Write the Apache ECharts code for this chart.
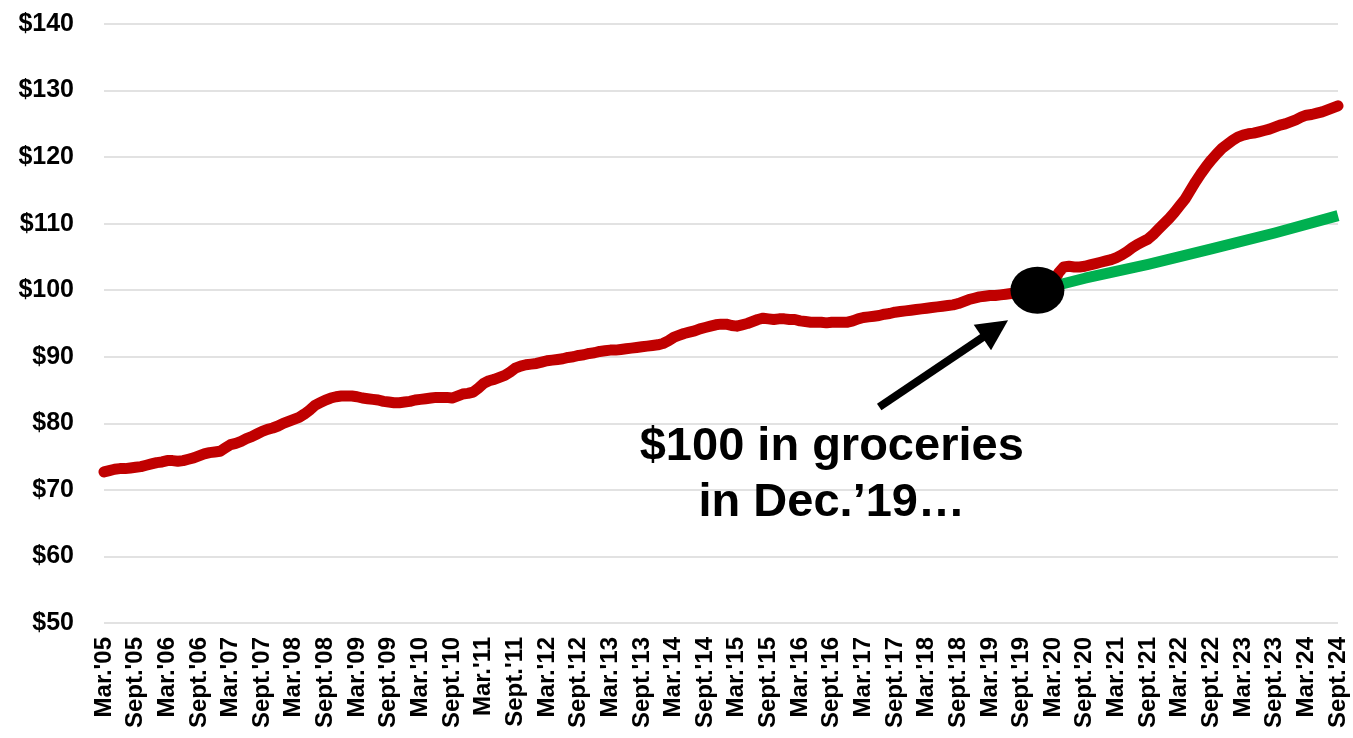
<!DOCTYPE html>
<html>
<head>
<meta charset="utf-8">
<title>Grocery prices</title>
<script src="https://cdn.jsdelivr.net/npm/echarts@6/dist/echarts.min.js"></script>
<style>
  html, body { margin: 0; padding: 0; background: #ffffff; }
  #chart { width: 1353px; height: 738px; }
</style>
</head>
<body>
<div id="chart"></div>
<script>
// Monthly categories, March 2005 through September 2024
const monthNames = ['Jan.', 'Feb.', 'Mar.', 'Apr.', 'May', 'June', 'July', 'Aug.', 'Sept.', 'Oct.', 'Nov.', 'Dec.'];
const startYear = 2005, startMonth = 2;   // March
const monthCount = 235;
const categories = [];
for (let i = 0; i < monthCount; i++) {
  const m = (startMonth + i) % 12;
  const y = startYear + Math.floor((startMonth + i) / 12);
  categories.push(monthNames[m] + "'" + String(y).slice(2));
}

// Cost of the same basket of groceries, $ (Dec. 2019 = $100)
const groceryCost = [
  72.7, 72.9, 73.1, 73.2, 73.2, 73.3, 73.4, 73.5, 73.7, 73.9, 74.1, 74.2,
  74.4, 74.4, 74.3, 74.4, 74.6, 74.8, 75.1, 75.4, 75.6, 75.7, 75.8, 76.3,
  76.8, 77.0, 77.3, 77.7, 78.0, 78.4, 78.8, 79.1, 79.3, 79.6, 80.0, 80.3,
  80.6, 80.9, 81.4, 82.0, 82.7, 83.1, 83.5, 83.8, 84.0, 84.1, 84.1, 84.1,
  84.0, 83.8, 83.7, 83.6, 83.5, 83.3, 83.2, 83.1, 83.1, 83.2, 83.3, 83.5,
  83.6, 83.7, 83.8, 83.9, 83.9, 83.9, 83.8, 84.1, 84.4, 84.5, 84.7, 85.3,
  86.0, 86.4, 86.6, 86.9, 87.2, 87.7, 88.3, 88.6, 88.8, 88.9, 89.0, 89.2,
  89.4, 89.5, 89.6, 89.7, 89.9, 90.0, 90.2, 90.3, 90.5, 90.6, 90.8, 90.9,
  91.0, 91.0, 91.1, 91.2, 91.3, 91.4, 91.5, 91.6, 91.7, 91.8, 92.0, 92.4,
  92.9, 93.2, 93.5, 93.7, 93.9, 94.2, 94.4, 94.6, 94.8, 94.9, 94.9, 94.7,
  94.6, 94.8, 95.0, 95.3, 95.6, 95.8, 95.7, 95.6, 95.7, 95.7, 95.6, 95.6,
  95.4, 95.3, 95.2, 95.2, 95.2, 95.1, 95.2, 95.2, 95.2, 95.2, 95.4, 95.7,
  95.9, 96.0, 96.1, 96.2, 96.4, 96.5, 96.7, 96.8, 96.9, 97.0, 97.1, 97.2,
  97.3, 97.4, 97.5, 97.6, 97.7, 97.8, 98.0, 98.3, 98.6, 98.8, 99.0, 99.1,
  99.2, 99.2, 99.3, 99.4, 99.5, 99.5, 99.6, 99.7, 99.8, 100.0, 100.3, 100.6,
  100.9, 102.6, 103.5, 103.6, 103.5, 103.5, 103.6, 103.8, 104.0, 104.2, 104.4, 104.6,
  104.9, 105.3, 105.8, 106.4, 106.9, 107.3, 107.7, 108.4, 109.2, 110.0, 110.8, 111.7,
  112.7, 113.7, 115.0, 116.3, 117.5, 118.6, 119.6, 120.5, 121.3, 121.9, 122.5, 123.0,
  123.3, 123.5, 123.6, 123.8, 124.0, 124.2, 124.5, 124.8, 125.0, 125.3, 125.6, 126.0,
  126.3, 126.4, 126.6, 126.8, 127.1, 127.4, 127.7
];

// Path of the $100 basket had prices kept to the pre-2020 pace
const trendMonths = ["Dec.'19", "Sept.'20", "Sept.'21", "Sept.'22", "Sept.'23", "Sept.'24"];
const trendValues = [100, 101.8, 103.9, 106.2, 108.6, 111.2];

// Reference point: $100 in Dec. 2019
const baseMonth = "Dec.'19";
const baseValue = 100;

// Value axis ticks
const yMin = 50, yMax = 140, yStep = 10;

// Callout: arrow from the caption towards the reference point, and caption text
const arrowFrom = [147, 82.45];
const arrowTo = [169, 94.2];
const captionAt = [138, 72.3];
const captionText = "$100 in groceries\nin Dec.\u201919\u2026";

const trendData = categories.map(c => {
  const k = trendMonths.indexOf(c);
  return k >= 0 ? trendValues[k] : null;
});

const FONT = "Liberation Sans, Arial, Helvetica, sans-serif";

const chart = echarts.init(document.getElementById('chart'), null, { renderer: 'canvas' });
chart.setOption({
  animation: false,
  backgroundColor: '#ffffff',
  grid: { left: 104, right: 15, top: 24, bottom: 115, containLabel: false },
  xAxis: {
    type: 'category',
    data: categories,
    boundaryGap: false,
    axisLine: { show: false },
    axisTick: { show: false },
    splitLine: { show: false },
    axisLabel: {
      interval: 5,
      rotate: 90,
      margin: 14,
      color: '#000000',
      fontFamily: FONT,
      fontWeight: 'bold',
      fontSize: 24
    }
  },
  yAxis: {
    type: 'value',
    min: yMin,
    max: yMax,
    interval: yStep,
    axisLine: { show: false },
    axisTick: { show: false },
    splitLine: { show: true, lineStyle: { color: '#d9d9d9', width: 1.5 } },
    axisLabel: {
      margin: 30,
      color: '#000000',
      fontFamily: FONT,
      fontWeight: 'bold',
      fontSize: 25,
      formatter: v => '$' + v
    }
  },
  series: [
    {
      name: 'Groceries',
      type: 'line',
      data: groceryCost,
      showSymbol: false,
      symbol: 'none',
      silent: true,
      z: 2,
      lineStyle: { color: '#C00000', width: 11, cap: 'round', join: 'round' }
    },
    {
      name: 'Pre-2020 pace',
      type: 'line',
      data: trendData,
      connectNulls: true,
      showSymbol: false,
      symbol: 'none',
      silent: true,
      z: 3,
      lineStyle: { color: '#00B050', width: 11, cap: 'butt', join: 'round' }
    },
    {
      name: 'Dec. 2019',
      type: 'scatter',
      data: [[baseMonth, baseValue]],
      symbol: 'circle',
      symbolSize: [54, 47],
      silent: true,
      z: 4,
      itemStyle: { color: '#000000', opacity: 1 },
      markLine: {
        silent: true,
        animation: false,
        symbol: ['none', 'triangle'],
        symbolSize: 31,
        label: { show: false },
        lineStyle: { color: '#000000', width: 8, type: 'solid', opacity: 1 },
        emphasis: { disabled: true },
        data: [[{ coord: arrowFrom }, { coord: arrowTo }]]
      },
      markPoint: {
        silent: true,
        animation: false,
        symbol: 'rect',
        symbolSize: 1,
        itemStyle: { color: 'rgba(0,0,0,0)' },
        label: {
          show: true,
          position: 'inside',
          formatter: captionText,
          color: '#000000',
          fontFamily: FONT,
          fontWeight: 'bold',
          fontSize: 47,
          lineHeight: 56,
          align: 'center'
        },
        data: [{ coord: captionAt }]
      }
    }
  ]
});
</script>
</body>
</html>
